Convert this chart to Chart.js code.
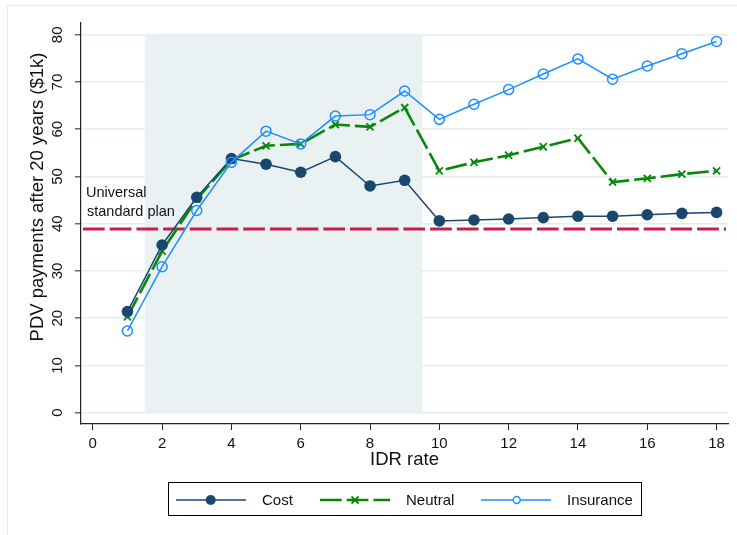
<!DOCTYPE html>
<html>
<head>
<meta charset="utf-8">
<script src="https://cdn.jsdelivr.net/npm/chart.js@4.4.0/dist/chart.umd.min.js"></script>
<style>
  html, body { margin: 0; padding: 0; background: #ffffff; }
  #wrap { width: 737px; height: 535px; position: relative; }
</style>
</head>
<body>
<div id="wrap"><canvas id="c" width="737" height="535"></canvas></div>
<script>
// IDR rate (x) and present discounted value of payments after 20 years, $1k (y)
const idrRates      = [1, 2, 3, 4, 5, 6, 7, 8, 9, 10, 11, 12, 13, 14, 15, 16, 17, 18];
const costPdv       = [21.4, 35.5, 45.6, 53.8, 52.6, 50.9, 54.2, 48.0, 49.2, 40.6, 40.8, 41.0, 41.3, 41.6, 41.6, 41.9, 42.2, 42.4];
const neutralPdv    = [20.3, 34.2, 45.2, 53.5, 56.5, 56.9, 61.0, 60.5, 64.6, 51.2, 53.0, 54.5, 56.3, 58.1, 48.8, 49.6, 50.5, 51.2];
const insurancePdv  = [17.3, 30.9, 42.8, 53.0, 59.6, 56.9, 62.8, 63.1, 68.1, 62.1, 65.3, 68.4, 71.7, 74.9, 70.6, 73.4, 76.0, 78.6];

const seriesNames   = ['Cost', 'Neutral', 'Insurance'];
const xTickValues   = [0, 2, 4, 6, 8, 10, 12, 14, 16, 18];
const yTickValues   = [0, 10, 20, 30, 40, 50, 60, 70, 80];
const universalPlan = 38.9;           // universal standard plan benchmark
const shadedRates   = [1.5, 9.5];     // highlighted IDR range
const shadedPdv     = [0, 80];
const refLabelLines = ['Universal', 'standard plan'];
const xTitle = 'IDR rate';
const yTitle = 'PDV payments after 20 years ($1k)';

const FONT = '"Liberation Sans", Arial, Helvetica, sans-serif';
const NAVY = '#1a476f', GREEN = '#0a870a', BLUE = '#1e8fff', CRIMSON = '#c81e4a';
const SHADE = '#eaf1f3', GRID = '#e5edef', TEXT = '#111111';

const toPoints = arr => idrRates.map((x, i) => ({ x: x, y: arr[i] }));

const decorations = {
  id: 'decorations',
  beforeDatasetsDraw(chart) {
    const { ctx, scales: { x, y } } = chart;
    ctx.save();
    // highlighted IDR band
    const x0 = x.getPixelForValue(shadedRates[0]), x1 = x.getPixelForValue(shadedRates[1]);
    const y0 = y.getPixelForValue(shadedPdv[1]), y1 = y.getPixelForValue(shadedPdv[0]);
    ctx.fillStyle = SHADE;
    ctx.fillRect(x0, y0, x1 - x0, y1 - y0);
    // universal standard plan line
    const yr = y.getPixelForValue(universalPlan);
    ctx.strokeStyle = CRIMSON;
    ctx.lineWidth = 3;
    ctx.setLineDash([21.7, 5]);
    ctx.beginPath();
    ctx.moveTo(x.left + 2, yr);
    ctx.lineTo(x.right - 2, yr);
    ctx.stroke();
    ctx.setLineDash([]);
    // its label
    ctx.fillStyle = TEXT;
    ctx.font = '14.5px ' + FONT;
    ctx.textAlign = 'left';
    ctx.textBaseline = 'middle';
    ctx.fillText(refLabelLines[0], 86, 193);
    ctx.fillText(refLabelLines[1], 87, 212);
    ctx.restore();
  },
  afterDraw(chart) {
    const { ctx, scales: { x, y } } = chart;
    ctx.save();
    ctx.fillStyle = TEXT;
    // y tick labels, rotated
    ctx.font = '15px ' + FONT;
    ctx.textAlign = 'center';
    ctx.textBaseline = 'middle';
    yTickValues.forEach(v => {
      ctx.save();
      ctx.translate(57, y.getPixelForValue(v));
      ctx.rotate(-Math.PI / 2);
      ctx.fillText(String(v), 0, 1);
      ctx.restore();
    });
    // x tick labels
    ctx.textBaseline = 'alphabetic';
    xTickValues.forEach(v => {
      ctx.fillText(String(v), x.getPixelForValue(v), 447.5);
    });
    // axis titles
    ctx.font = '18.5px ' + FONT;
    ctx.fillText(xTitle, (x.left + x.right) / 2, 465);
    ctx.save();
    ctx.translate(38, 197);
    ctx.rotate(-Math.PI / 2);
    ctx.textBaseline = 'middle';
    ctx.fillText(yTitle, 0, 0);
    ctx.restore();

    // legend
    const ly = 500;
    ctx.strokeStyle = '#000';
    ctx.lineWidth = 1;
    ctx.strokeRect(168.5, 482.5, 473, 33);
    const items = [
      { ds: chart.data.datasets[0], x0: 176, mk: 210.7, tx: 262 },
      { ds: chart.data.datasets[1], x0: 320, mk: 355,   tx: 406 },
      { ds: chart.data.datasets[2], x0: 481, mk: 516.7, tx: 567 }
    ];
    items.forEach((it, i) => {
      const ds = it.ds;
      ctx.strokeStyle = ds.borderColor;
      ctx.lineWidth = ds.borderWidth;
      ctx.setLineDash(ds.borderDash || []);
      ctx.beginPath();
      ctx.moveTo(it.x0, ly);
      ctx.lineTo(it.x0 + 70, ly);
      ctx.stroke();
      ctx.setLineDash([]);
      if (i === 0) {
        ctx.fillStyle = ds.pointBackgroundColor;
        ctx.beginPath(); ctx.arc(it.mk, ly, 5, 0, Math.PI * 2); ctx.fill();
      } else if (i === 1) {
        ctx.lineWidth = 1.8;
        ctx.beginPath();
        ctx.moveTo(it.mk - 3.5, ly - 3.5); ctx.lineTo(it.mk + 3.5, ly + 3.5);
        ctx.moveTo(it.mk + 3.5, ly - 3.5); ctx.lineTo(it.mk - 3.5, ly + 3.5);
        ctx.stroke();
      } else {
        ctx.fillStyle = '#fff';
        ctx.lineWidth = 1.5;
        ctx.beginPath(); ctx.arc(it.mk, ly, 3.5, 0, Math.PI * 2); ctx.fill(); ctx.stroke();
      }
      ctx.fillStyle = TEXT;
      ctx.font = '15px ' + FONT;
      ctx.textAlign = 'left';
      ctx.textBaseline = 'middle';
      ctx.fillText(ds.label, it.tx, ly + 1);
    });

    // outer graph region frame
    ctx.strokeStyle = '#e3ecef';
    ctx.lineWidth = 1;
    ctx.strokeRect(7.5, 5.5, 760, 560);
    ctx.restore();
  }
};

new Chart(document.getElementById('c'), {
  type: 'line',
  data: {
    datasets: [
      {
        label: seriesNames[0], data: toPoints(costPdv),
        borderColor: NAVY, borderWidth: 1.5, tension: 0,
        pointStyle: 'circle', pointRadius: 5.8, pointBorderWidth: 0,
        pointBackgroundColor: NAVY, pointBorderColor: NAVY, order: 1
      },
      {
        label: seriesNames[1], data: toPoints(neutralPdv),
        borderColor: GREEN, borderWidth: 2.6, borderDash: [21.7, 5], tension: 0,
        pointStyle: 'crossRot', pointRadius: 5, pointBorderWidth: 1.8,
        pointBorderColor: GREEN, pointBackgroundColor: GREEN, order: 2
      },
      {
        label: seriesNames[2], data: toPoints(insurancePdv),
        borderColor: BLUE, borderWidth: 1.5, tension: 0,
        pointStyle: 'circle', pointRadius: 5, pointBorderWidth: 1.5,
        pointBorderColor: BLUE, pointBackgroundColor: 'rgba(255,255,255,0)', order: 0
      }
    ]
  },
  options: {
    responsive: false,
    animation: false,
    devicePixelRatio: 1,
    layout: { autoPadding: false, padding: { left: 0, top: 23, right: 9, bottom: 0 } },
    plugins: { legend: { display: false }, tooltip: { enabled: false } },
    scales: {
      x: {
        type: 'linear', min: -0.34, max: 18.33,
        afterBuildTicks: s => { s.ticks = xTickValues.map(v => ({ value: v })); },
        afterFit: s => { s.height = 111; },
        grid: { drawOnChartArea: false, drawTicks: true, tickLength: 6, tickColor: '#222', tickWidth: 1 },
        border: { color: '#222', width: 1.2 },
        ticks: { display: false }
      },
      y: {
        type: 'linear', min: -2.4, max: 82.5,
        afterBuildTicks: s => { s.ticks = yTickValues.map(v => ({ value: v })); },
        afterFit: s => { s.width = 81; },
        grid: { color: GRID, lineWidth: 1.6, drawTicks: true, tickLength: 6, tickColor: '#444', tickWidth: 1.2 },
        border: { color: '#222', width: 1.2 },
        ticks: { display: false }
      }
    }
  },
  plugins: [decorations]
});
</script>
</body>
</html>
